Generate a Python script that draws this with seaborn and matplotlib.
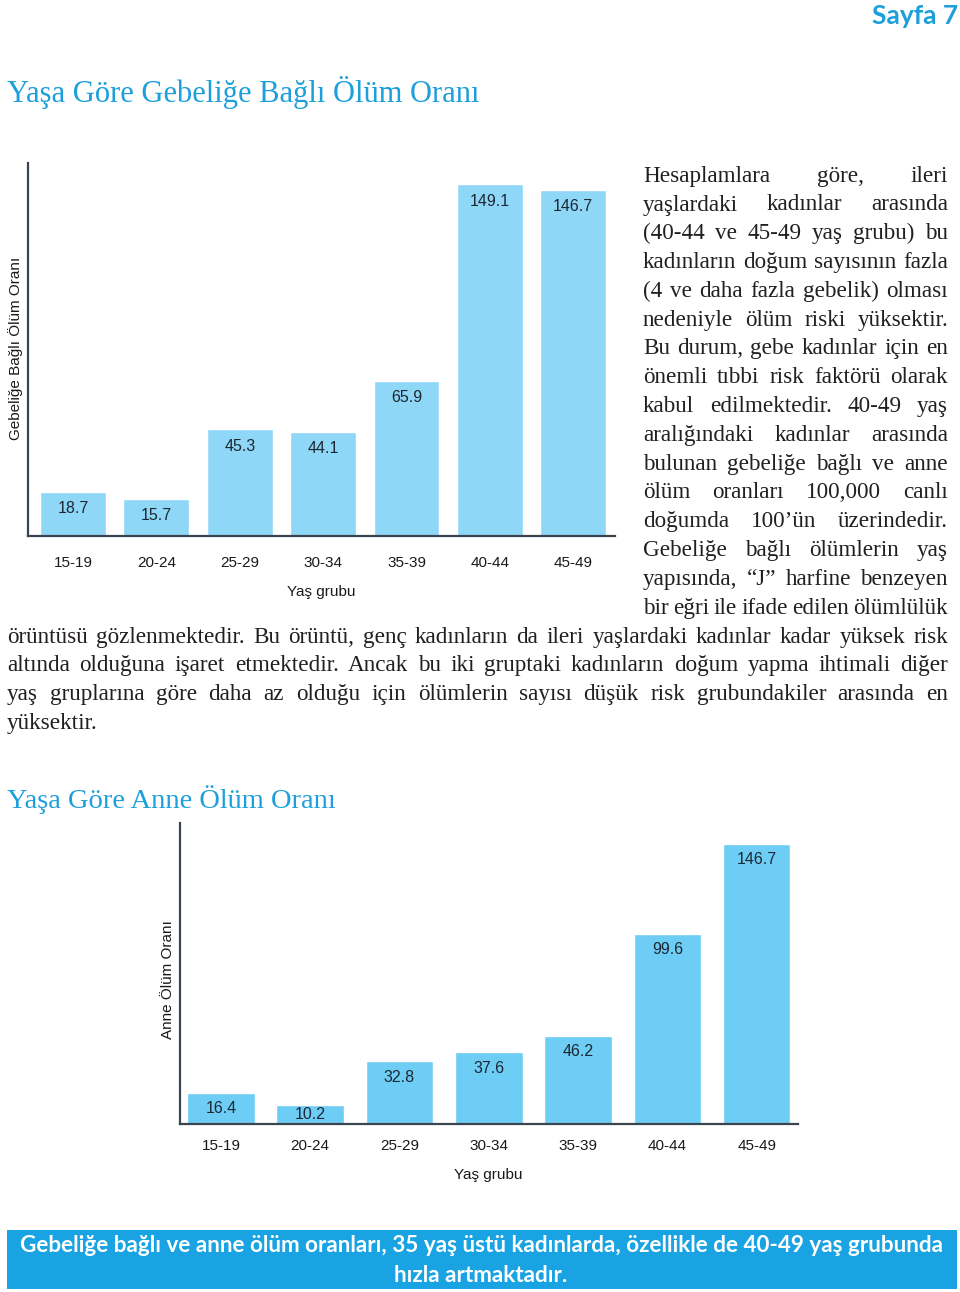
import numpy as np
import pandas as pd
import matplotlib
matplotlib.use("Agg")
import matplotlib.pyplot as plt
import seaborn as sns
from matplotlib.patches import Rectangle

# ---------------- data ----------------
age_groups = ["15-19", "20-24", "25-29", "30-34", "35-39", "40-44", "45-49"]
pregnancy_rates = [18.7, 15.7, 45.3, 44.1, 65.9, 149.1, 146.7]
maternal_rates = [16.4, 10.2, 32.8, 37.6, 46.2, 99.6, 146.7]

page_label = "Sayfa 7"
title1 = "Yaşa Göre Gebeliğe Bağlı Ölüm Oranı"
title2 = "Yaşa Göre Anne Ölüm Oranı"
ylabel1 = "Gebeliğe Bağlı Ölüm Oranı"
ylabel2 = "Anne Ölüm Oranı"
xlabel = "Yaş grubu"

column_lines = [
    "Hesaplamlara göre, ileri",
    "yaşlardaki kadınlar arasında",
    "(40-44 ve 45-49 yaş grubu) bu",
    "kadınların doğum sayısının fazla",
    "(4 ve daha fazla gebelik) olması",
    "nedeniyle ölüm riski yüksektir.",
    "Bu durum, gebe kadınlar için en",
    "önemli tıbbi risk faktörü olarak",
    "kabul edilmektedir. 40-49 yaş",
    "aralığındaki kadınlar arasında",
    "bulunan gebeliğe bağlı ve anne",
    "ölüm oranları 100,000 canlı",
    "doğumda 100’ün üzerindedir.",
    "Gebeliğe bağlı ölümlerin yaş",
    "yapısında, “J” harfine benzeyen",
    "bir eğri ile ifade edilen ölümlülük",
]
full_lines = [
    "örüntüsü gözlenmektedir. Bu örüntü, genç kadınların da ileri yaşlardaki kadınlar kadar yüksek risk",
    "altında olduğuna işaret etmektedir. Ancak bu iki gruptaki kadınların doğum yapma ihtimali diğer",
    "yaş gruplarına göre daha az olduğu için ölümlerin sayısı düşük risk grubundakiler arasında en",
    "yüksektir.",
]
banner_lines = [
    "Gebeliğe bağlı ve anne ölüm oranları, 35 yaş üstü kadınlarda, özellikle de 40-49 yaş grubunda",
    "hızla artmaktadır.",
]

# ---------------- style ----------------
sns.set_style("white")
plt.rcParams["font.family"] = ["Liberation Sans", "DejaVu Sans"]

W, H = 960, 1292
fig = plt.figure(figsize=(W / 100, H / 100), dpi=100)
fig.patch.set_facecolor("white")

BLUE = "#1c9fda"
TEXT = "#231f20"


def fx(x):
    return x / W


def fy(y):
    return 1 - y / H


def make_axes(left, right, top, bottom):
    return fig.add_axes([fx(left), fy(bottom), (right - left) / W, (bottom - top) / H])


def bar_chart(ax, values, color, width, ylim, xlim, ylabel, tickpad,
              xlabel_y, ylabel_x, ylabel_y, label_offset_px, height_px):
    df = pd.DataFrame({"grp": age_groups, "val": values})
    sns.barplot(data=df, x="grp", y="val", order=age_groups, color=color,
                saturation=1, width=width, ax=ax, errorbar=None)
    ax.set_ylim(*ylim)
    ax.set_xlim(*xlim)
    for s in ["top", "right"]:
        ax.spines[s].set_visible(False)
    for s in ["left", "bottom"]:
        ax.spines[s].set_color("#3b4550")
        ax.spines[s].set_linewidth(1.6)
    ax.set_yticks([])
    ax.tick_params(axis="x", length=0, pad=tickpad, labelsize=11, labelcolor="#1a1a1a")
    ax.set_xlabel(xlabel, fontsize=11, color="#1a1a1a")
    ax.xaxis.set_label_coords(0.5, xlabel_y)
    ax.set_ylabel(ylabel, fontsize=11, color="#1a1a1a")
    ax.yaxis.set_label_coords(ylabel_x, ylabel_y)
    ax.set_facecolor("white")
    ppu = height_px / (ylim[1] - ylim[0])
    for i, v in enumerate(values):
        off = min(label_offset_px, 0.5 * v * ppu)
        ax.annotate(f"{v:.1f}", xy=(i, v), xytext=(0, -off * 0.72),
                    textcoords="offset points", ha="center", va="center",
                    fontsize=11.5, color="#1d2733")


# ---------------- chart 1 ----------------
a1_l, a1_r, a1_t, a1_b = 28, 615, 163, 536
ax1 = make_axes(a1_l, a1_r, a1_t, a1_b)
bar_chart(ax1, pregnancy_rates, "#8fd7f7", 0.79, (0, 158.1), (-0.54, 6.50), ylabel1,
          tickpad=14.5, xlabel_y=-(585 - a1_b) / (a1_b - a1_t),
          ylabel_x=(22.7 - a1_l) / (a1_r - a1_l), ylabel_y=(a1_b - 348) / (a1_b - a1_t),
          label_offset_px=17, height_px=a1_b - a1_t)

# ---------------- chart 2 ----------------
a2_l, a2_r, a2_t, a2_b = 179.5, 797.7, 823, 1124
ax2 = make_axes(a2_l, a2_r, a2_t, a2_b)
bar_chart(ax2, maternal_rates, "#6dcdf5", 0.758, (0, 157.7), (-0.464, 6.46), ylabel2,
          tickpad=10.5, xlabel_y=-(1167.5 - a2_b) / (a2_b - a2_t),
          ylabel_x=(174.7 - a2_l) / (a2_r - a2_l), ylabel_y=(a2_b - 980) / (a2_b - a2_t),
          label_offset_px=16, height_px=a2_b - a2_t)

# ---------------- headings ----------------
fig.text(fx(958), fy(16), page_label, ha="right", va="center", fontsize=19,
         fontweight="bold", family="Lato", color=BLUE)
fig.text(fx(7), fy(102), title1, ha="left", va="baseline", fontsize=22,
         family="Liberation Serif", color=BLUE)
fig.text(fx(7), fy(808), title2, ha="left", va="baseline", fontsize=20.5,
         family="Liberation Serif", color=BLUE)

# ---------------- justified body text ----------------
renderer = fig.canvas.get_renderer()
body_kw = dict(fontsize=16.7, family="Liberation Serif", color=TEXT, va="baseline", ha="left")


def text_width(s):
    t = fig.text(0, 0, s, **body_kw)
    w = t.get_window_extent(renderer).width
    t.remove()
    return w


space_w = text_width("n n") - text_width("nn")


def draw_line(line, x0, x1, baseline, justify):
    words = line.split(" ")
    widths = [text_width(w) for w in words]
    if justify and len(words) > 1:
        gap = (x1 - x0 - sum(widths)) / (len(words) - 1)
    else:
        gap = space_w
    x = x0
    for w, wd in zip(words, widths):
        fig.text(fx(x), fy(baseline), w, **body_kw)
        x += wd + gap


base0, dy = 181.7, 28.8
for i, line in enumerate(column_lines):
    draw_line(line, 643, 948, base0 + i * dy, True)
n0 = len(column_lines)
for j, line in enumerate(full_lines):
    draw_line(line, 7, 948, base0 + (n0 + j) * dy, j < len(full_lines) - 1)

# ---------------- banner ----------------
fig.patches.append(Rectangle((fx(7), fy(1289)), (957 - 7) / W, (1289 - 1230) / H,
                             transform=fig.transFigure, facecolor="#1aa3e2",
                             edgecolor="none", zorder=0))
fig.text(fx(481), fy(1246), banner_lines[0], ha="center", va="center", fontsize=16.2,
         fontweight="bold", family="Lato", color="white")
fig.text(fx(481), fy(1275), banner_lines[1], ha="center", va="center", fontsize=16.2,
         fontweight="bold", family="Lato", color="white")

fig.savefig("out.png", dpi=100)
